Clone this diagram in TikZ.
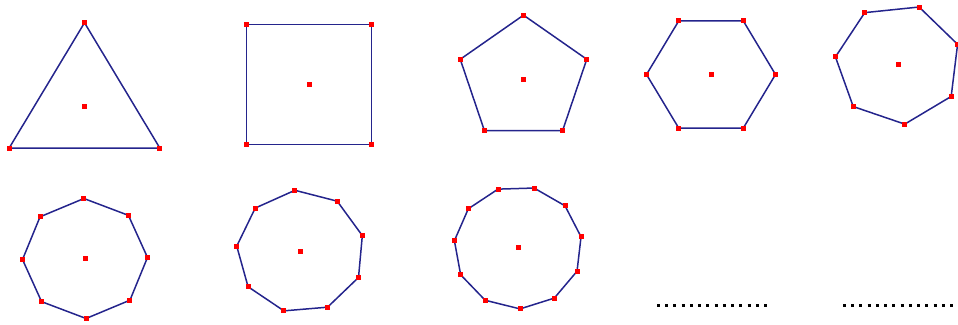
\documentclass[tikz,border=0pt]{standalone}
\usepackage{tikz}
\usetikzlibrary{positioning}
\definecolor{edgeblue}{RGB}{36, 36, 140}
\definecolor{dotred}{RGB}{255, 0, 0}

\begin{document}
\begin{tikzpicture}[
    x=1pt, y=-1pt,
    edge/.style={draw=edgeblue, line width=1.5pt, line join=round},
    vdot/.style={rectangle, fill=dotred, inner sep=0pt, minimum size=5pt},
    dotline/.style={draw=black, line width=3pt, dash pattern=on 3pt off 5.23pt}
]
    \useasboundingbox (0,0) rectangle (958,324);

    % Polygons: sides / centre x / centre y / radius / start angle
    \foreach \n/\cx/\cy/\r/\s in {3/84.5/106.3/87/90, 4/309/84.3/88.4/45, 5/523.5/79/66.5/90,
        6/711/74.5/64.5/0, 7/898/64/63/19, 8/85/258.5/62.5/1, 9/300.5/251.5/64/15, 11/518/247.5/64/10} {
        \draw[edge] ({\cx+\r*cos(\s)}, {\cy-0.96*\r*sin(\s)})
            \foreach \k in {2,...,\n} { -- ({\cx+\r*cos(\s+360*(\k-1)/\n)}, {\cy-0.96*\r*sin(\s+360*(\k-1)/\n)}) } -- cycle;
        \node[vdot] (c\n) at (\cx,\cy) {};
        \foreach \k in {1,...,\n}
            \node[vdot] (v\n-\k) at ({\cx+\r*cos(\s+360*(\k-1)/\n)}, {\cy-0.96*\r*sin(\s+360*(\k-1)/\n)}) {};
    }

    % Dotted lines
    \coordinate (dotsA-l) at (657,305);
    \coordinate (dotsA-r) at (767,305);
    \coordinate (dotsB-l) at (843,305);
    \coordinate (dotsB-r) at (953,305);
    \draw[dotline] (dotsA-l) -- (dotsA-r);
    \draw[dotline] (dotsB-l) -- (dotsB-r);

\end{tikzpicture}
\end{document}
